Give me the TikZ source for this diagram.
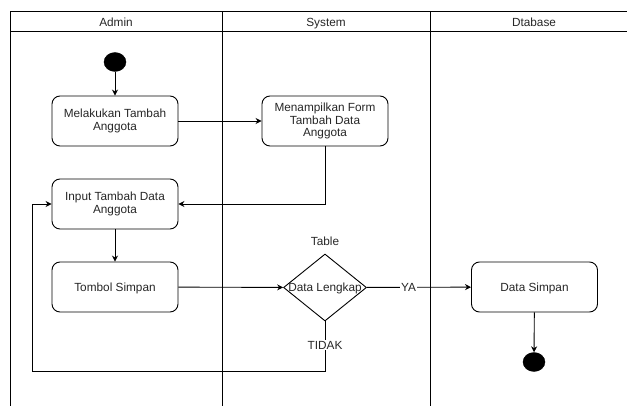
\documentclass[tikz,border=0pt]{standalone}
\usepackage{fontspec}
\setmainfont{Liberation Sans}
\usetikzlibrary{arrows.meta,shapes.geometric}
\begin{document}
\begin{tikzpicture}[x=1pt,y=-1pt,
  every node/.style={font=\fontsize{11.8}{12.3}\selectfont, text=black!85},
  act/.style={draw=black, line width=0.9pt, rounded corners=8pt, minimum width=126pt, minimum height=50pt, align=center, inner sep=2pt},
  dot/.style={ellipse, fill=black, draw=black, minimum width=22pt, minimum height=19pt, inner sep=0pt},
  dec/.style={diamond, draw=black, line width=0.9pt, minimum width=83pt, minimum height=67pt, inner sep=0pt},
  flow/.style={draw=black, line width=0.9pt, -{Stealth[length=6pt,width=6pt]}},
  lane/.style={draw=black, line width=1pt},
  head/.style={anchor=base, inner sep=0pt},
  lbl/.style={fill=white, inner sep=1pt, text height=8.5pt, text depth=0pt}]
\useasboundingbox (0,0) rectangle (627,406);
% swimlanes
\draw[lane] (10,406) -- (10,12) -- (627,12);
\draw[lane] (10,31.7) -- (627,31.7);
\draw[lane] (222,12) -- (222,406);
\draw[lane] (430,12) -- (430,406);
\node[head] (hA) at (116,26.5) {Admin};
\node[head] (hS) at (326,26.5) {System};
\node[head] (hD) at (534,26.5) {Dtabase};
% nodes
\node[dot] (start) at (115,62) {};
\node[act] (b1) at (115,121) {Melakukan Tambah\\Anggota};
\node[act] (b2) at (325,121) {Menampilkan Form\\Tambah Data\\Anggota};
\node[act] (b3) at (115,204) {Input Tambah Data\\Anggota};
\node[act, text height=8.5pt, text depth=0pt] (b4) at (115,287) {Tombol Simpan};
\node[dec] (dec) at (325,287.5) {};
\node[text height=8.5pt, text depth=0pt] (dl) at (325,287.5) {Data Lengkap};
\node[text height=8.5pt, text depth=0pt] (tbl) at (325,241) {Table};
\node[act, text height=8.5pt, text depth=0pt] (b5) at (534.5,287) {Data Simpan};
\node[dot] (end) at (534,362) {};
\coordinate (loop) at (32,371);
% connectors
\draw[flow] (start) -- (b1);
\draw[flow] (b1) -- (b2);
\draw[flow] (b2.south) |- (b3.east);
\draw[flow] (b3) -- (b4);
\draw[flow] (b4) -- (dec);
\draw[flow] (dec) -- node[lbl, pos=0.40] {YA} (b5);
\draw[flow] (dec.south) -- node[lbl, pos=0.48] {TIDAK} (dec.south |- loop) -- (loop) |- (b3.west);
\draw[flow] (b5) -- (end);
\end{tikzpicture}
\end{document}
